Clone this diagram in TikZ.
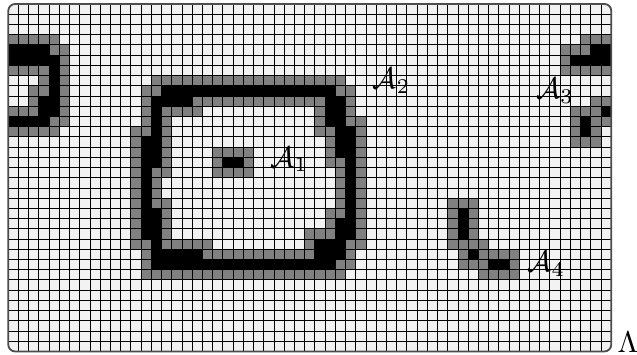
\documentclass[tikz,border=0pt]{standalone}
\usepackage{amsmath}
\usepackage{xcolor}
\definecolor{grisclair}{HTML}{F2F2F2}
\definecolor{grismoyen}{HTML}{808080}
\usepackage{tikz}
% plages horizontales de cellules noires : ligne/debut/fin
\newcommand{\plages}{4/0/3, 5/0/4, 6/4/4, 7/4/4, 8/4/4, 9/3/4, 10/3/4, 11/0/3,
  4/57/58, 5/55/58, 10/58/58, 11/56/56, 12/56/56,
  15/21/22,
  20/44/44, 21/44/44, 22/44/44, 24/45/45, 25/47/48,
  8/15/31, 9/14/17, 9/31/32, 10/14/14, 10/31/32, 11/14/14, 11/31/32,
  12/14/14, 12/32/33, 13/13/14, 13/32/33, 14/13/14, 14/32/33,
  15/13/14, 15/33/33, 16/13/13, 16/33/33, 17/13/13, 17/33/33,
  18/13/13, 18/33/33, 19/13/13, 19/33/33, 20/13/14, 20/33/33,
  21/13/14, 21/32/33, 22/13/14, 22/32/33, 23/14/14, 23/30/32,
  24/14/18, 24/30/32, 25/14/31}

\begin{document}
\begin{tikzpicture}[x=1.2mm,y=1.2mm,
  grise/.style={fill=grismoyen},
  noire/.style={fill=black},
  grille/.style={draw=black,line width=0.3pt},
  cadre/.style={draw=black!70,line width=0.6pt,rounded corners=0.8mm},
  etiq/.style={font=\normalsize}
]
\useasboundingbox (-0.81,-0.29) rectangle (61.52,34.39);
% fond, voisinages et ensembles
\begin{scope}
\clip[rounded corners=0.8mm] (0,0) rectangle (59,34);
\fill[grisclair] (0,0) rectangle (59,34);
\foreach \r/\a/\b in \plages \fill[grise] (\a-1,32-\r) rectangle (\b+2,35-\r);
\foreach \r/\a/\b in \plages \fill[noire] (\a,33-\r) rectangle (\b+1,34-\r);
% grille
\foreach \i in {1,...,58} \draw[grille] (\i,0) -- (\i,34);
\foreach \j in {1,...,33} \draw[grille] (0,\j) -- (59,\j);
\end{scope}
\draw[cadre] (0,0) rectangle (59,34);
% etiquettes
\node[etiq] (a1) at (27.5,18.8) {$\mathcal{A}_1$};
\node[etiq] (a2) at (37.5,26.5) {$\mathcal{A}_2$};
\node[etiq] (a3) at (53.5,25.5) {$\mathcal{A}_3$};
\node[etiq] (a4) at (52.66,8.6) {$\mathcal{A}_4$};
\node[etiq] (lam) at (60.65,0.9) {$\Lambda$};
\end{tikzpicture}
\end{document}
